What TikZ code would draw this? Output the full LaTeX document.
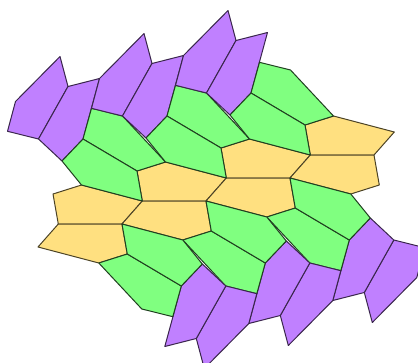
\documentclass[tikz,border=0pt]{standalone}
\definecolor{purp}{RGB}{192,128,255}
\definecolor{grn}{RGB}{128,255,128}
\definecolor{yel}{RGB}{255,224,128}
\tikzset{
  ptile/.style={fill=purp,draw=purp!30!black,line width=1pt,line join=round},
  gtile/.style={fill=grn,draw=grn!25!black,line width=1pt,line join=round},
  ytile/.style={fill=yel,draw=yel!30!black,line width=1pt,line join=round}
}
\newcommand\TA{\filldraw[ptile] (60,56.5) -- (68,86.5) -- (38.5,139) -- (7.5,131.3) -- (15.5,101.5) -- cycle;}
\newcommand\TB{\filldraw[ptile] (68,86.5) -- (99.5,78.5) -- (83,139) -- (62,161) -- (38.5,139) -- cycle;}
\newcommand\TGa{\filldraw[gtile] (91.5,108.3) -- (122.5,116) -- (165.5,162) -- (137,171) -- (83,139) -- cycle;}
\newcommand\TGb{\filldraw[gtile] (83,139) -- (137,171) -- (142.3,201) -- (81.5,185) -- (62,161) -- cycle;}
\newcommand\TYa{\filldraw[ytile] (53,194) -- (81.5,185) -- (142.3,201) -- (122,224) -- (58.3,224) -- cycle;}
\newcommand\TYb{\filldraw[ytile] (58.3,224) -- (122,224) -- (127.3,254) -- (98.8,263) -- (38,247) -- cycle;}
\begin{document}
\begin{tikzpicture}[x=1pt,y=-1pt]
\useasboundingbox (0,0) rectangle (418,362);
\clip (0,0) rectangle (418,362);
\foreach \k in {0,1,2,3}{
  \begin{scope}[shift={(84*\k,-23*\k)}]
    \TYa \TYb
  \end{scope}
}
\foreach \r in {0,180}{
  \begin{scope}[rotate around={\r:(216.15,189.5)}]
    \foreach \k in {0,1,2}{
      \begin{scope}[shift={(84*\k,-23*\k)}]
        \TA \TB \TGa \TGb
      \end{scope}
    }
  \end{scope}
}
\end{tikzpicture}
\end{document}
